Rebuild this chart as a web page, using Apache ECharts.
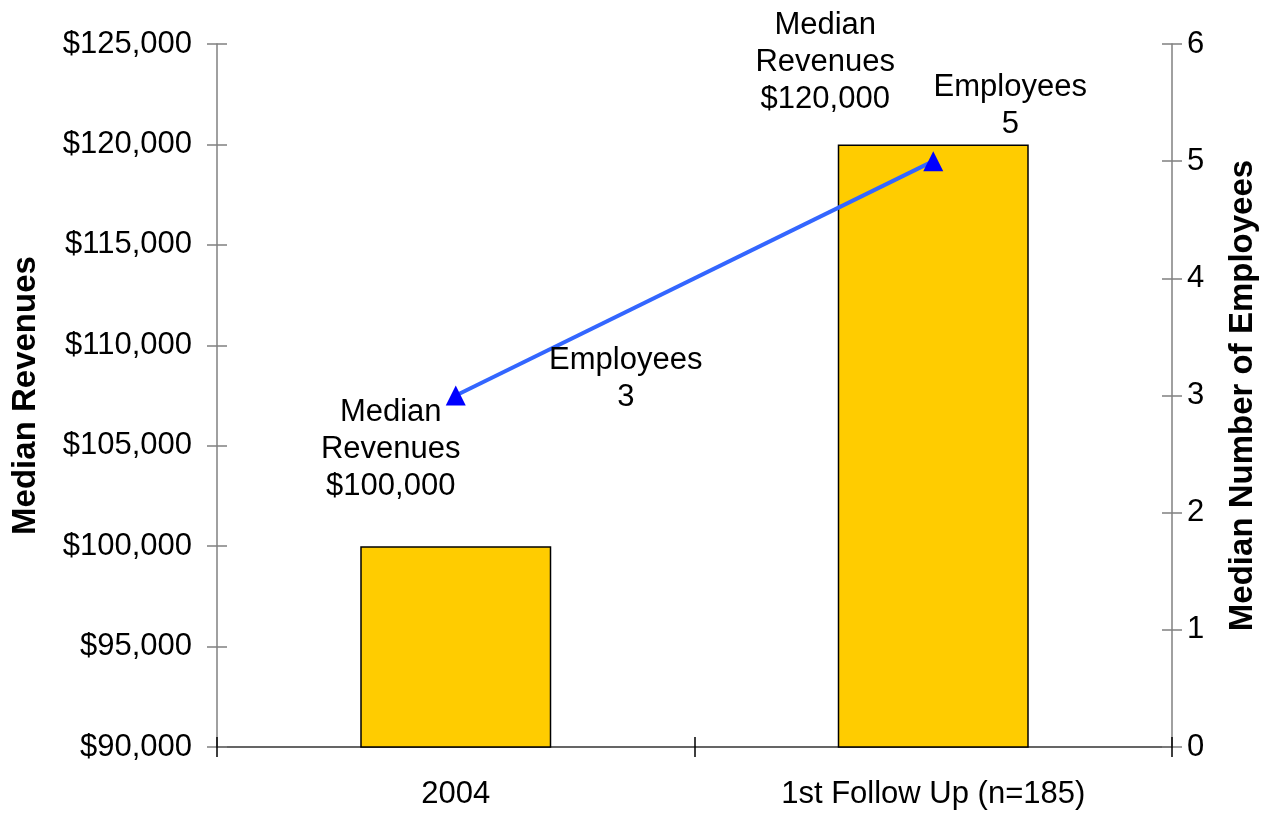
<!DOCTYPE html>
<html>
<head>
<meta charset="utf-8">
<script src="https://cdn.jsdelivr.net/npm/echarts@6/dist/echarts.min.js"></script>
<style>
html,body{margin:0;padding:0;background:#fff;}
#chart{width:1277px;height:815px;}
</style>
</head>
<body>
<div id="chart"></div>
<script>
const categories = ['2004', '1st Follow Up (n=185)'];
const revenues = [100000, 120000];
const employees = [3, 5];
const revenueTicks = [90000, 125000, 5000];
const employeeTicks = [0, 6, 1];

const FONT = "'Liberation Sans', Arial, sans-serif";
const fmtMoney = v => '$' + v.toLocaleString('en-US');

const revLabelOffsets = [[-65, -197], [-108, -384]];
const empLabelOffsets = [[170, -17], [77, -55]];

const chart = echarts.init(document.getElementById('chart'), null, {renderer: 'canvas'});

const baseY = (min, max, interval, pos, gridIndex) => ({
  type: 'value', position: pos, min, max, interval, gridIndex,
  splitLine: {show: false}
});
const gridBox = {left: 217, right: 105, top: 44, bottom: 68};

chart.setOption({
  animation: false,
  backgroundColor: '#fff',
  textStyle: {fontFamily: FONT},
  grid: [Object.assign({}, gridBox), Object.assign({}, gridBox)],
  xAxis: [
    {
      type: 'category', data: categories, position: 'bottom', gridIndex: 0,
      axisLine: {lineStyle: {color: '#333', width: 1.5}},
      axisTick: {show: true, inside: false, length: 10, lineStyle: {color: '#000', width: 1.5}},
      axisLabel: {color: '#000', fontSize: 31, margin: 32, fontFamily: FONT}
    },
    {
      type: 'category', data: categories, position: 'bottom', gridIndex: 1,
      axisLine: {show: false},
      axisTick: {show: true, inside: true, length: 10, lineStyle: {color: '#000', width: 1.5}},
      axisLabel: {show: false}
    }
  ],
  yAxis: [
    Object.assign(baseY(revenueTicks[0], revenueTicks[1], revenueTicks[2], 'left', 0), {
      name: 'Median Revenues', nameLocation: 'middle', nameGap: 175,
      nameTextStyle: {fontSize: 33, fontWeight: 'bold', color: '#000', fontFamily: FONT},
      axisLine: {show: true, lineStyle: {color: '#808080', width: 1.5}},
      axisTick: {show: true, inside: false, length: 10, lineStyle: {color: '#808080', width: 1.5}},
      axisLabel: {color: '#000', fontSize: 31, margin: 25, formatter: fmtMoney, fontFamily: FONT}
    }),
    Object.assign(baseY(revenueTicks[0], revenueTicks[1], revenueTicks[2], 'left', 1), {
      axisLine: {show: false},
      axisTick: {show: true, inside: true, length: 10, lineStyle: {color: '#808080', width: 1.5}},
      axisLabel: {show: false}
    }),
    Object.assign(baseY(employeeTicks[0], employeeTicks[1], employeeTicks[2], 'right', 0), {
      name: 'Median Number of Employees', nameLocation: 'middle', nameGap: 54,
      nameTextStyle: {fontSize: 33, fontWeight: 'bold', color: '#000', fontFamily: FONT},
      axisLine: {show: true, lineStyle: {color: '#808080', width: 1.5}},
      axisTick: {show: true, inside: false, length: 10, lineStyle: {color: '#808080', width: 1.5}},
      axisLabel: {color: '#000', fontSize: 31, margin: 15, fontFamily: FONT}
    }),
    Object.assign(baseY(employeeTicks[0], employeeTicks[1], employeeTicks[2], 'right', 1), {
      axisLine: {show: false},
      axisTick: {show: true, inside: true, length: 10, lineStyle: {color: '#808080', width: 1.5}},
      axisLabel: {show: false}
    })
  ],
  series: [
    {
      type: 'bar', xAxisIndex: 0, yAxisIndex: 0, barWidth: '40%',
      itemStyle: {color: '#FFCC00', borderColor: '#000', borderWidth: 1.5},
      data: revenues.map((v, i) => ({
        value: v,
        label: {
          show: true, position: 'inside', offset: revLabelOffsets[i],
          formatter: 'Median\nRevenues\n' + fmtMoney(v),
          fontSize: 31, lineHeight: 37, color: '#000', align: 'center', fontFamily: FONT
        }
      })),
      z: 2
    },
    {
      type: 'line', xAxisIndex: 0, yAxisIndex: 2,
      lineStyle: {color: '#3366FF', width: 4},
      symbol: 'triangle', symbolSize: [20, 20],
      itemStyle: {color: '#0000FF'},
      data: employees.map((v, i) => ({
        value: v,
        label: {
          show: true, position: 'inside', offset: empLabelOffsets[i],
          formatter: 'Employees\n' + v,
          fontSize: 31, lineHeight: 37, color: '#000', align: 'center', fontFamily: FONT
        }
      })),
      z: 3
    }
  ]
});
</script>
</body>
</html>
